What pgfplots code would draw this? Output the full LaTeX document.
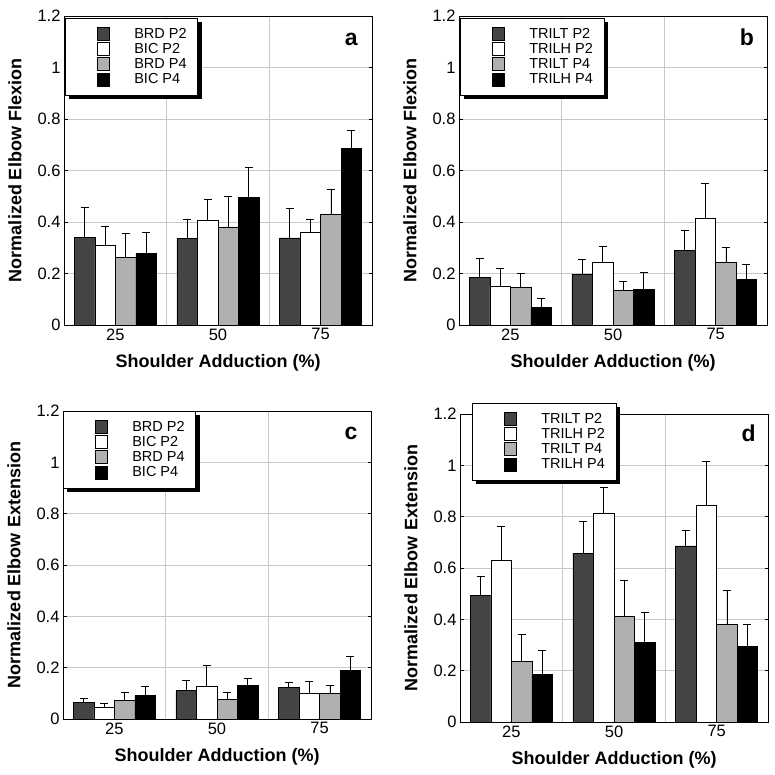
\documentclass[border=0pt]{standalone}
\usepackage{fontspec}
\setmainfont{Liberation Sans}
\usepackage{pgfplots}
\pgfplotsset{compat=1.18}
\usepackage{pgfplotstable}
\definecolor{darkbar}{HTML}{444444}
\definecolor{lightbar}{HTML}{B0B0B0}
\definecolor{gridc}{HTML}{C8C8C8}

% panel a: Elbow flexion, BRD/BIC
\pgfplotstableread{
x  s1    e1    s2    e2    s3    e3    s4    e4
0  0.340 0.117 0.309 0.073 0.263 0.093 0.277 0.083
1  0.337 0.072 0.406 0.082 0.381 0.117 0.496 0.115
2  0.338 0.115 0.359 0.053 0.430 0.097 0.685 0.070
}\tabA
% panel b: Elbow flexion, TRILT/TRILH
\pgfplotstableread{
x  s1    e1    s2    e2    s3    e3    s4    e4
0  0.184 0.075 0.149 0.072 0.145 0.056 0.067 0.038
1  0.198 0.058 0.243 0.061 0.133 0.035 0.139 0.066
2  0.291 0.077 0.413 0.135 0.243 0.057 0.177 0.060
}\tabB
% panel c: Elbow extension, BRD/BIC
\pgfplotstableread{
x  s1    e1    s2    e2    s3    e3    s4    e4
0  0.064 0.016 0.045 0.016 0.074 0.031 0.091 0.036
1  0.110 0.039 0.126 0.082 0.077 0.025 0.130 0.030
2  0.122 0.022 0.102 0.043 0.100 0.032 0.188 0.057
}\tabC
% panel d: Elbow extension, TRILT/TRILH
\pgfplotstableread{
x  s1    e1    s2    e2    s3    e3    s4    e4
0  0.494 0.072 0.629 0.134 0.237 0.105 0.186 0.092
1  0.658 0.122 0.815 0.099 0.410 0.141 0.311 0.115
2  0.686 0.059 0.845 0.169 0.380 0.132 0.296 0.086
}\tabD

\tikzset{letter/.style={font=\fontsize{23}{24}\selectfont\bfseries, anchor=base},
  legshadow/.style={fill=black, draw=none}}

\pgfplotsset{
  legimg/.style={legend image code/.code={%
      \path[fill=none,draw=none] (-24pt,-7.6pt) rectangle (34pt,7.6pt);
      \draw[##1,draw=black,line width=0.6pt] (0pt,-6.5pt) rectangle (12pt,6.5pt);}},
  errb/.style={/pgfplots/error bars/y dir=plus,
      /pgfplots/error bars/y explicit,
      /pgfplots/error bars/error bar style={black, line width=0.8pt},
      /pgfplots/error bars/error mark options={rotate=90, black, line width=0.8pt, mark size=4pt}},
  bar1/.style={fill=darkbar, draw=black, line width=0.6pt, legimg, errb},
  bar2/.style={fill=white, draw=black, line width=0.6pt, legimg, errb},
  bar3/.style={fill=lightbar, draw=black, line width=0.6pt, legimg, errb},
  bar4/.style={fill=black, draw=black, line width=0.6pt, legimg, errb},
  panel/.style={
    scale only axis, width=308pt, height=309pt,
    anchor=south west,
    xmin=-0.5, xmax=2.5, ymin=0, ymax=1.2,
    ybar=0pt, bar width=0.2,
    xtick={0,1,2}, xticklabels={25,50,75},
    minor xtick={0.5,1.5},
    ytick={0,0.2,0.4,0.6,0.8,1,1.2},
    xminorgrids=true, ymajorgrids=true,
    grid style={gridc, line width=0.6pt},
    minor grid style={gridc, line width=0.6pt},
    axis line style={black, line width=0.9pt},
    tick style={black, line width=0.6pt},
    xtick style={draw=none},
    major tick length=3.5pt, minor tick length=3.5pt,
    tick align=inside,
    ticklabel style={font=\fontsize{16.5}{18}\selectfont},
    /pgf/number format/assume math mode=true,
    xlabel={Shoulder Adduction (\%)},
    xlabel style={font=\fontsize{18}{20}\selectfont\bfseries, at={(axis description cs:0.5,-0.123)}, anchor=center},
    ylabel style={font=\fontsize{18}{20}\selectfont\bfseries, at={(axis description cs:-0.159,0.5)}, anchor=center},
    legend cell align=left,
    legend style={at={(axis description cs:0,1)}, anchor=north west,
      draw=black, line width=0.6pt, fill=white,
      inner xsep=8pt, inner ysep=8pt, row sep=0pt,
      font=\fontsize{14.5}{15}\selectfont,
      nodes={inner xsep=3pt, inner ysep=0pt}},
  },
}

\newcommand{\shadowof}[1]{%
  \fill[legshadow] ([xshift=0.3pt]#1.north east) ++(0,-4pt) rectangle ([xshift=4pt,yshift=-4pt]#1.south east);
  \fill[legshadow] ([xshift=4pt,yshift=-0.3pt]#1.south west) rectangle ([xshift=4pt,yshift=-4pt]#1.south east);
}

\begin{document}
\begin{tikzpicture}
\useasboundingbox (0,0) rectangle (774pt,775pt);

% (a)
\begin{axis}[panel, at={(64pt,450pt)}, height=309pt,
  ylabel={Normalized Elbow Flexion},
  legend style={xshift=1pt, yshift=-2pt, name=legA}]
\addplot[bar1] table[x=x, y=s1, y error=e1] {\tabA};
\addplot[bar2] table[x=x, y=s2, y error=e2] {\tabA};
\addplot[bar3] table[x=x, y=s3, y error=e3] {\tabA};
\addplot[bar4] table[x=x, y=s4, y error=e4] {\tabA};
\legend{BRD P2, BIC P2, BRD P4, BIC P4}
\node[letter] at (axis description cs:0.933,0.906) {a};
\end{axis}
\shadowof{legA}

% (b)
\begin{axis}[panel, at={(459pt,450pt)}, height=309pt,
  ylabel={Normalized Elbow Flexion},
  legend style={xshift=1pt, yshift=-2pt, name=legB}]
\addplot[bar1] table[x=x, y=s1, y error=e1] {\tabB};
\addplot[bar2] table[x=x, y=s2, y error=e2] {\tabB};
\addplot[bar3] table[x=x, y=s3, y error=e3] {\tabB};
\addplot[bar4] table[x=x, y=s4, y error=e4] {\tabB};
\legend{TRILT P2, TRILH P2, TRILT P4, TRILH P4}
\node[letter] at (axis description cs:0.935,0.906) {b};
\end{axis}
\shadowof{legB}

% (c)
\begin{axis}[panel, at={(63pt,56pt)}, height=308pt,
  ylabel={Normalized Elbow Extension},
  legend style={xshift=0pt, yshift=0pt, name=legC}]
\addplot[bar1] table[x=x, y=s1, y error=e1] {\tabC};
\addplot[bar2] table[x=x, y=s2, y error=e2] {\tabC};
\addplot[bar3] table[x=x, y=s3, y error=e3] {\tabC};
\addplot[bar4] table[x=x, y=s4, y error=e4] {\tabC};
\legend{BRD P2, BIC P2, BRD P4, BIC P4}
\node[letter] at (axis description cs:0.935,0.906) {c};
\end{axis}
\shadowof{legC}

% (d)
\begin{axis}[panel, at={(460pt,53pt)}, height=308pt,
  ylabel={Normalized Elbow Extension},
  legend style={xshift=12pt, yshift=11pt, name=legD}]
\addplot[bar1] table[x=x, y=s1, y error=e1] {\tabD};
\addplot[bar2] table[x=x, y=s2, y error=e2] {\tabD};
\addplot[bar3] table[x=x, y=s3, y error=e3] {\tabD};
\addplot[bar4] table[x=x, y=s4, y error=e4] {\tabD};
\legend{TRILT P2, TRILH P2, TRILT P4, TRILH P4}
\node[letter] at (axis description cs:0.937,0.91) {d};
\end{axis}
\shadowof{legD}
\end{tikzpicture}
\end{document}
